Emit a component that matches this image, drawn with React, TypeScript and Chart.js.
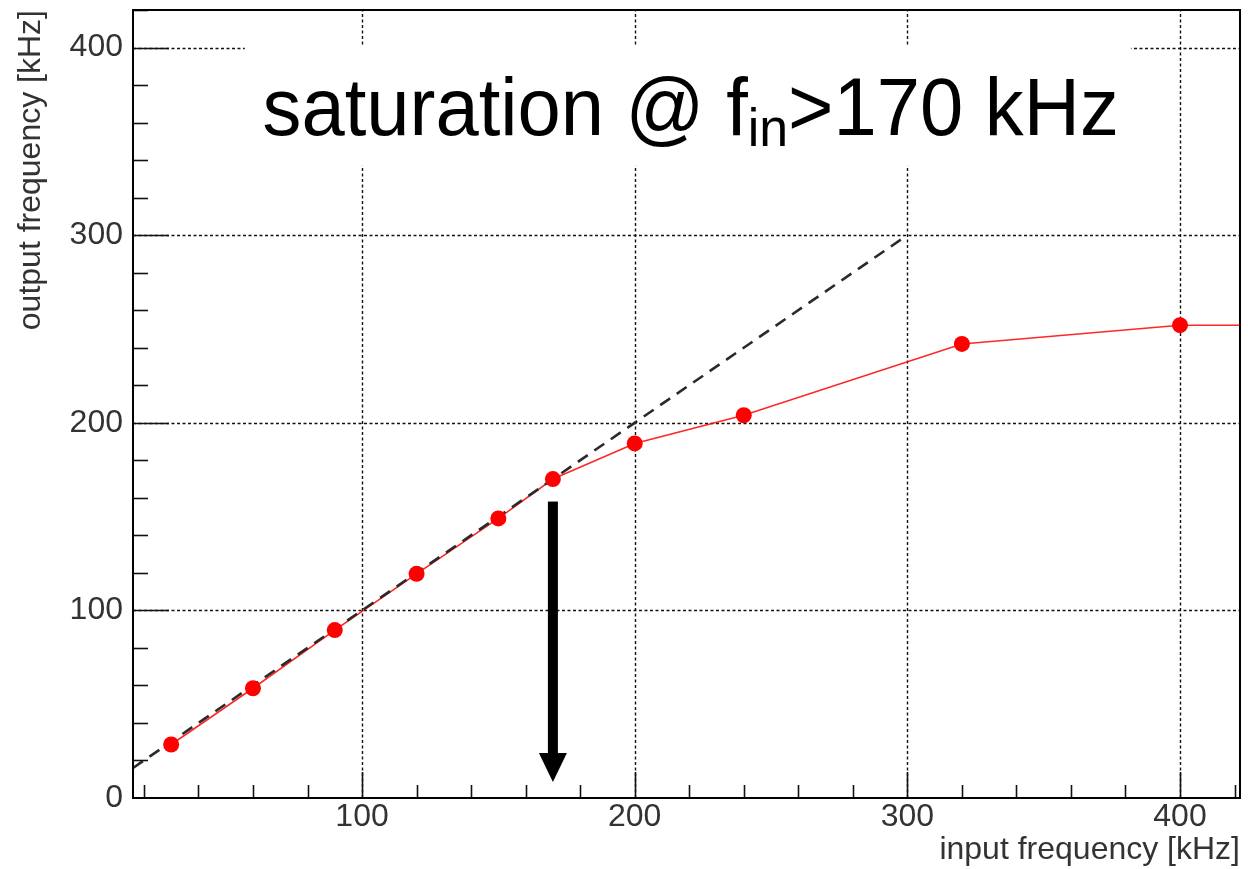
import { useEffect, useRef } from 'react';
import { Chart, registerables } from 'chart.js';

Chart.register(...registerables);

// ---- data ----
const inputFreq = [30, 60, 90, 120, 150, 170, 200, 240, 320, 400, 500];
const outputFreq = [28.5, 58.5, 89.5, 119.5, 149, 170, 189, 204, 242, 252, 252];
const idealX = [16, 300];
const idealY = [16, 300];
const xMajorTicks = [100, 200, 300, 400];
const yMajorTicks = [0, 100, 200, 300, 400];
const xRange = [16, 422];
const yRange = [0, 420];
const minorStep = 20;
const arrowX = 170;
const arrowFromY = 158;
const arrowToY = 8.5;
const titleParts = ['saturation @ f', 'in', '>170 kHz'];
const titleBox = { x0: 57, x1: 382, y0: 337, y1: 401 };
const titleAnchor = { x: 63.5, y: 353.6 };
const xTitle = 'input frequency [kHz]';
const yTitle = 'output frequency [kHz]';

const FONT = '"Liberation Sans", Arial, Helvetica, sans-serif';
const LABEL_COLOR = '#333';

const rootStyle = {
  id: 'rootStyle',
  beforeDatasetsDraw(chart: any) {
    const { ctx, chartArea } = chart;
    const { left, right, top, bottom } = chartArea;
    const xs = chart.scales.x;
    const ys = chart.scales.y;
    ctx.save();
    ctx.strokeStyle = '#111';
    ctx.lineWidth = 1.4;
    ctx.setLineDash([3, 2.5]);
    xMajorTicks.forEach((v) => {
      const px = Math.round(xs.getPixelForValue(v)) + 0.5;
      ctx.beginPath();
      ctx.moveTo(px, bottom);
      ctx.lineTo(px, top);
      ctx.stroke();
    });
    yMajorTicks.forEach((v) => {
      if (v <= ys.min) return;
      const py = Math.round(ys.getPixelForValue(v)) + 0.5;
      ctx.beginPath();
      ctx.moveTo(left, py);
      ctx.lineTo(right, py);
      ctx.stroke();
    });
    ctx.restore();
  },
  afterDatasetsDraw(chart: any) {
    const { ctx } = chart;
    const xs = chart.scales.x;
    const ys = chart.scales.y;
    ctx.save();
    // title pave
    const bx0 = xs.getPixelForValue(titleBox.x0);
    const bx1 = xs.getPixelForValue(titleBox.x1);
    const by0 = ys.getPixelForValue(titleBox.y1);
    const by1 = ys.getPixelForValue(titleBox.y0);
    ctx.fillStyle = '#fff';
    ctx.fillRect(bx0, by0, bx1 - bx0, by1 - by0);
    // title text
    const ax = xs.getPixelForValue(titleAnchor.x);
    const ay = ys.getPixelForValue(titleAnchor.y);
    ctx.translate(ax, ay);
    ctx.scale(0.96, 1);
    ctx.fillStyle = '#000';
    ctx.textBaseline = 'alphabetic';
    ctx.textAlign = 'left';
    ctx.font = `81px ${FONT}`;
    ctx.fillText(titleParts[0], 0, 0);
    let cx = ctx.measureText(titleParts[0]).width;
    ctx.font = `54px ${FONT}`;
    ctx.fillText(titleParts[1], cx, 11);
    cx += ctx.measureText(titleParts[1]).width;
    ctx.font = `81px ${FONT}`;
    ctx.fillText(titleParts[2], cx, 0);
    ctx.restore();

    // arrow
    ctx.save();
    const px = xs.getPixelForValue(arrowX);
    const py0 = ys.getPixelForValue(arrowFromY);
    const py1 = ys.getPixelForValue(arrowToY);
    const headH = 29;
    const headW = 28;
    const shaftW = 10;
    ctx.fillStyle = '#000';
    ctx.fillRect(px - shaftW / 2, py0, shaftW, py1 - headH - py0 + 2);
    ctx.beginPath();
    ctx.moveTo(px - headW / 2, py1 - headH);
    ctx.lineTo(px + headW / 2, py1 - headH);
    ctx.lineTo(px, py1);
    ctx.closePath();
    ctx.fill();
    ctx.restore();
  },
  afterDraw(chart: any) {
    const { ctx, chartArea } = chart;
    const { left, right, top, bottom } = chartArea;
    const xs = chart.scales.x;
    const ys = chart.scales.y;
    ctx.save();
    ctx.strokeStyle = '#111';
    ctx.lineWidth = 1.6;
    ctx.setLineDash([]);
    for (let v = Math.ceil(xs.min / minorStep) * minorStep; v <= xs.max; v += minorStep) {
      const px = Math.round(xs.getPixelForValue(v)) + 0.5;
      const len = xMajorTicks.includes(v) ? 26 : 13;
      ctx.beginPath();
      ctx.moveTo(px, bottom);
      ctx.lineTo(px, bottom - len);
      ctx.stroke();
    }
    for (let v = Math.ceil(ys.min / minorStep) * minorStep; v <= ys.max; v += minorStep) {
      if (v <= ys.min) continue;
      const py = Math.round(ys.getPixelForValue(v)) + 0.5;
      const len = yMajorTicks.includes(v) ? 36 : 15;
      ctx.beginPath();
      ctx.moveTo(left, py);
      ctx.lineTo(left + len, py);
      ctx.stroke();
    }
    ctx.lineWidth = 2;
    ctx.strokeStyle = '#000';
    ctx.strokeRect(left, top, right - left, bottom - top);
    ctx.restore();
  },
};

export default function App() {
  const ref = useRef<HTMLCanvasElement | null>(null);
  useEffect(() => {
    document.body.style.margin = '0';
    const canvas = ref.current;
    if (!canvas) return;
    const measured = inputFreq.map((x, i) => ({ x, y: outputFreq[i] }));
    const ideal = idealX.map((x, i) => ({ x, y: idealY[i] }));
    const chart = new Chart(canvas, {
      type: 'scatter',
      data: {
        datasets: [
          {
            label: 'measured points',
            data: measured,
            showLine: false,
            pointRadius: 8,
            pointBackgroundColor: '#ff0000',
            pointBorderColor: '#ff0000',
            pointBorderWidth: 0,
          },
          {
            label: 'ideal',
            data: ideal,
            showLine: true,
            borderColor: '#2a2a2a',
            borderWidth: 2.6,
            borderDash: [12, 8],
            pointRadius: 0,
          },
          {
            label: 'measured line',
            data: measured,
            showLine: true,
            borderColor: 'rgba(255,0,0,0.85)',
            borderWidth: 1.6,
            pointRadius: 0,
          },
        ],
      },
      options: {
        animation: false,
        responsive: false,
        maintainAspectRatio: false,
        layout: { padding: { top: 10, right: 5, left: 0, bottom: 0 } },
        plugins: { legend: { display: false }, tooltip: { enabled: false } },
        scales: {
          x: {
            type: 'linear',
            min: xRange[0],
            max: xRange[1],
            afterBuildTicks: (axis: any) => {
              axis.ticks = xMajorTicks.map((value) => ({ value }));
            },
            afterFit: (axis: any) => {
              axis.height = 71;
              axis.paddingLeft = 0;
              axis.paddingRight = 0;
            },
            grid: { display: false, drawTicks: false },
            border: { display: false },
            ticks: {
              padding: 0,
              maxRotation: 0,
              color: LABEL_COLOR,
              font: { family: FONT, size: 32 },
            },
            title: {
              display: true,
              text: xTitle,
              align: 'end',
              color: LABEL_COLOR,
              font: { family: FONT, size: 32 },
              padding: { top: 0, bottom: 0 },
            },
          },
          y: {
            type: 'linear',
            min: yRange[0],
            max: yRange[1],
            afterBuildTicks: (axis: any) => {
              axis.ticks = yMajorTicks.map((value) => ({ value }));
            },
            afterFit: (axis: any) => {
              axis.width = 133;
              axis.paddingTop = 0;
              axis.paddingBottom = 0;
            },
            grid: { display: false, drawTicks: false },
            border: { display: false },
            ticks: {
              padding: 10,
              color: LABEL_COLOR,
              font: { family: FONT, size: 32 },
            },
            title: {
              display: true,
              text: yTitle,
              align: 'end',
              color: LABEL_COLOR,
              font: { family: FONT, size: 32 },
              padding: { top: 12, bottom: 0 },
            },
          },
        },
      },
      plugins: [rootStyle],
    });
    return () => chart.destroy();
  }, []);
  return (
    <div style={{ width: 1248, height: 869, background: '#fff' }}>
      <canvas ref={ref} width={1248} height={869} style={{ display: 'block' }} />
    </div>
  );
}
